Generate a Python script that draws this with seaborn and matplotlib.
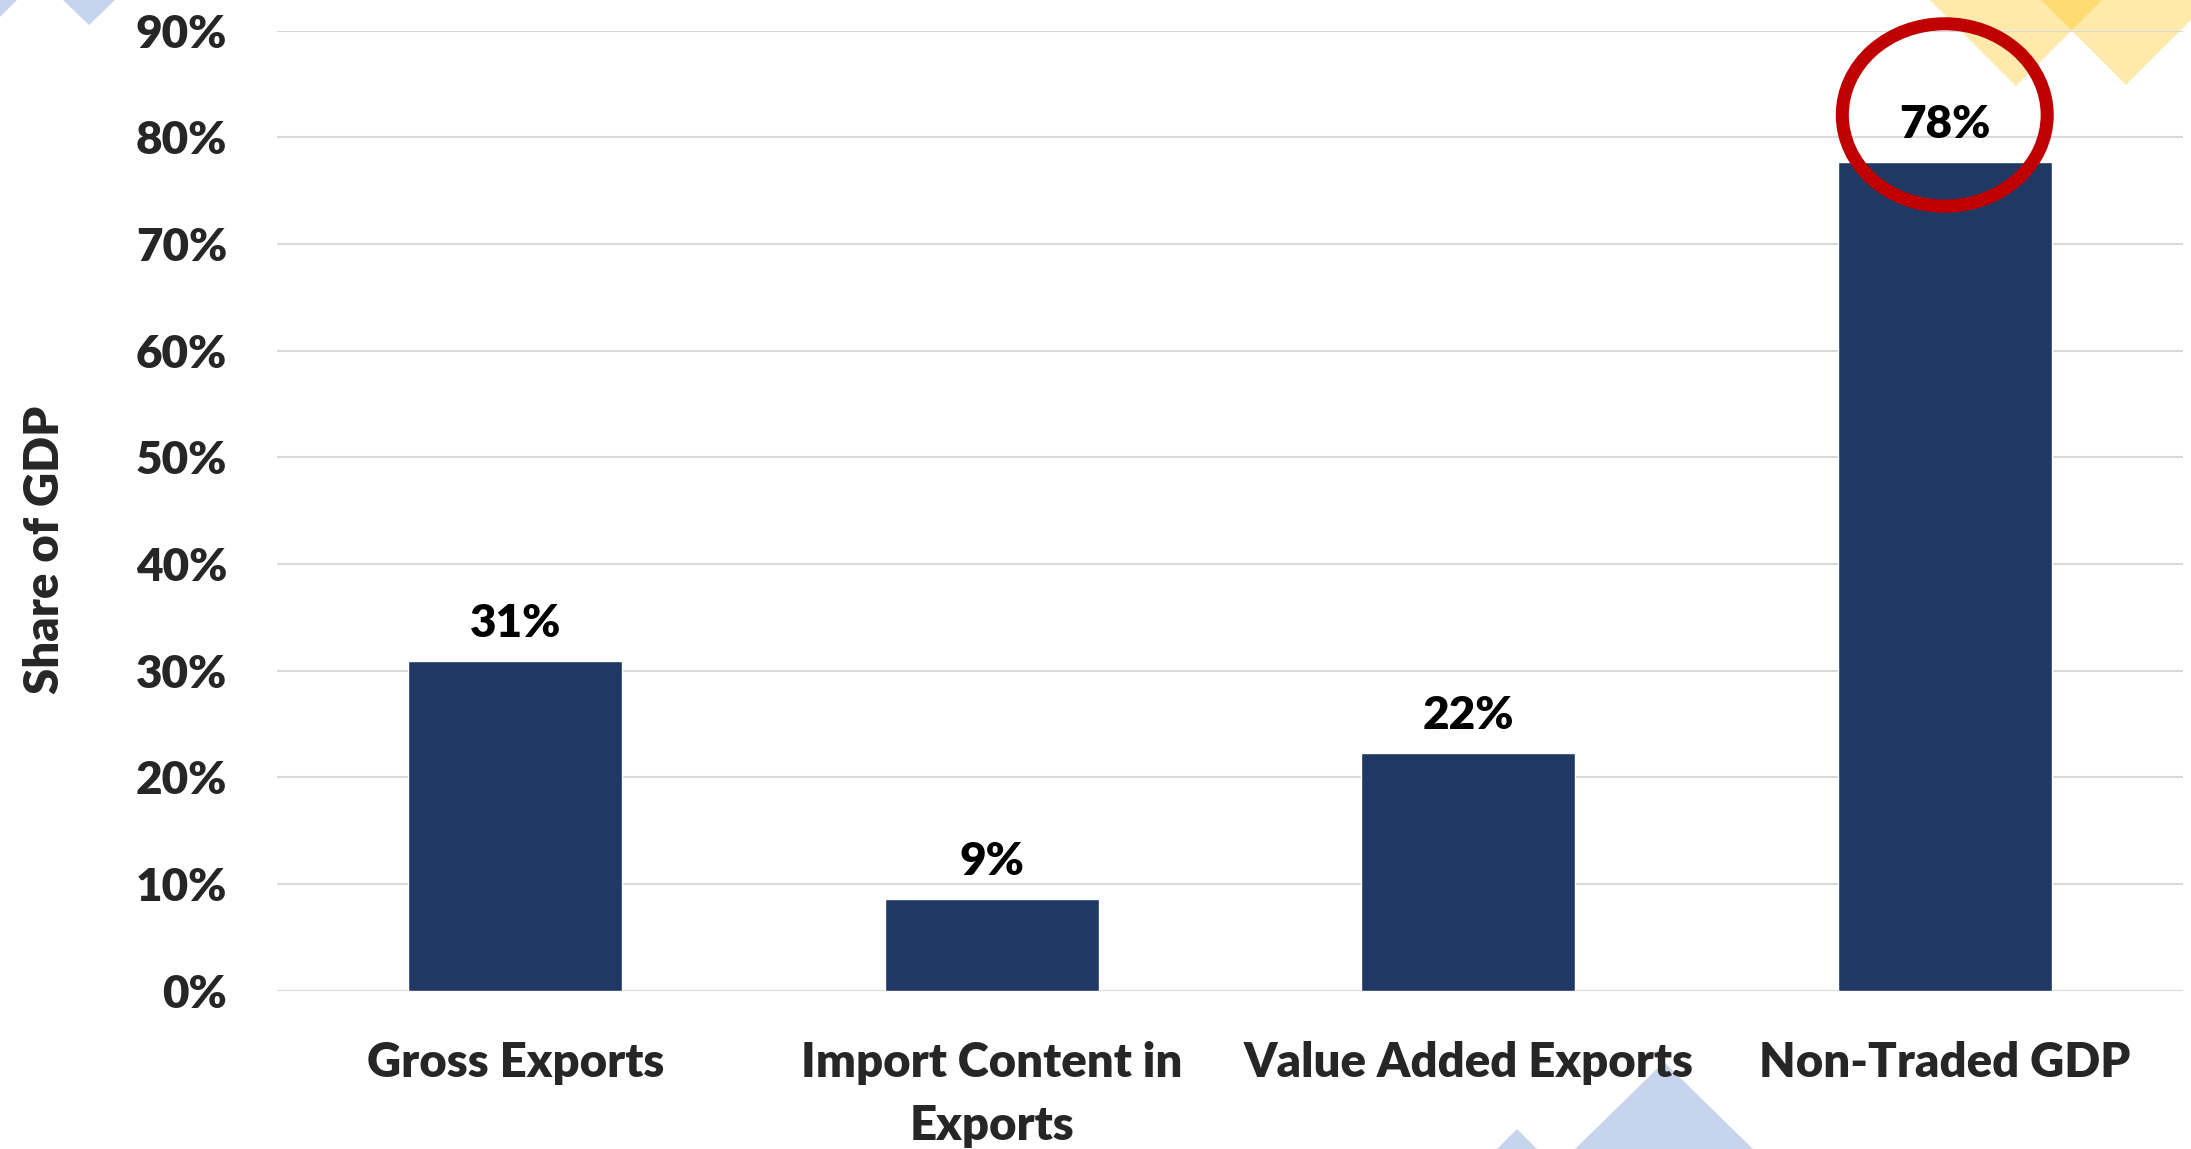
import matplotlib
matplotlib.use("Agg")
import matplotlib.pyplot as plt
import seaborn as sns
from matplotlib.patches import Ellipse, Polygon

# data
categories = ["Gross Exports", "Import Content in\nExports", "Value Added Exports", "Non-Traded GDP"]
share_of_gdp = [30.9, 8.6, 22.3, 77.7]
y_ticks = [0, 10, 20, 30, 40, 50, 60, 70, 80, 90]
highlight_idx = 3

bar_color = "#203864"
W, H = 2191, 1149
WEIGHT = "heavy"

sns.set_style("white")
plt.rcParams["font.family"] = ["Lato", "DejaVu Sans"]
plt.rcParams["font.weight"] = WEIGHT

fig = plt.figure(figsize=(W / 100, H / 100), dpi=100)
ax = fig.add_axes([277 / W, 1 - 990.7 / H, (2183 - 277) / W, (990.7 - 30.7) / H])
ax.set_facecolor("none")

# background diamonds (pixel coords, y from top)
def px(points):
    return [(x / W, 1 - y / H) for x, y in points]

decor = [
    ([(0, 0), (17, 0), (0, 17)], "#4472C4", 0.3),
    ([(63, 0), (115, 0), (89, 25)], "#4472C4", 0.3),
    ([(1930, 0), (2102, 0), (2016, 86)], "#FFC000", 0.33),
    ([(2041, 0), (2211, 0), (2126, 85)], "#FFC000", 0.33),
    ([(1575, 1149), (1664, 1062), (1753, 1149)], "#4472C4", 0.3),
    ([(1497, 1149), (1517, 1129), (1537, 1149)], "#4472C4", 0.3),
]
for pts, c, a in decor:
    fig.add_artist(Polygon(px(pts), closed=True, transform=fig.transFigure,
                           facecolor=c, alpha=a, edgecolor="none", zorder=-5))

sns.barplot(x=categories, y=share_of_gdp, color=bar_color, saturation=1,
            width=0.45, ax=ax, zorder=3)

ax.set_xlim(-0.5, 3.5)
ax.set_ylim(0, 90)
ax.set_yticks(y_ticks)
ax.set_yticklabels([f"{t}%" for t in y_ticks])
ax.yaxis.grid(True, color="#D9D9D9", linewidth=1.5, zorder=0)
ax.set_axisbelow(True)
for s in ax.spines.values():
    s.set_visible(False)

ax.tick_params(axis="y", length=0, pad=36, labelsize=33)
ax.tick_params(axis="x", length=0, pad=36, labelsize=34)
for lbl in ax.get_xticklabels() + ax.get_yticklabels():
    lbl.set_fontweight(WEIGHT)
for lbl in ax.get_xticklabels():
    lbl.set_linespacing(1.55)

ax.bar_label(ax.containers[0], fmt="{:.0f}%", padding=12, fontsize=33,
             fontweight=WEIGHT, color="black")

ax.set_ylabel("Share of GDP", fontsize=34, fontweight=WEIGHT, va="center")
ax.set_xlabel("")
ax.yaxis.set_label_coords(-0.1218, 0.459)

# red ring around the highlighted label
ring = Ellipse((highlight_idx, share_of_gdp[highlight_idx] + 4.4), width=0.43, height=17.1,
               facecolor="none", edgecolor="#C00000", linewidth=9.4, zorder=5, clip_on=False)
ax.add_patch(ring)

fig.savefig("out.png", dpi=100)
